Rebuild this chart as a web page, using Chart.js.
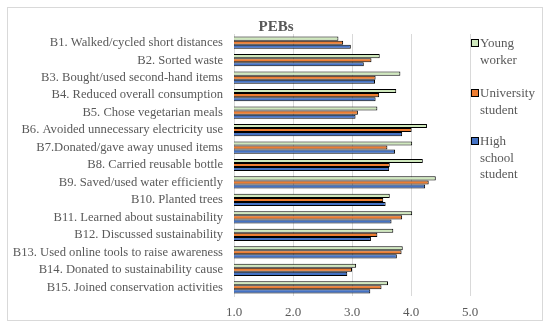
<!DOCTYPE html>
<html>
<head>
<meta charset="utf-8">
<script src="https://cdn.jsdelivr.net/npm/chart.js@4.4.0/dist/chart.umd.min.js"></script>
<style>
  html, body { margin: 0; padding: 0; background: #fff; }
  #wrap { width: 550px; height: 328px; position: relative; }
</style>
</head>
<body>
<div id="wrap"><canvas id="pebChart" width="550" height="328"></canvas></div>
<script>
// categorias (comportamientos)
const behaviours = [
  'B1. Walked/cycled short distances',
  'B2. Sorted waste',
  'B3. Bought/used second-hand items',
  'B4. Reduced overall consumption',
  'B5. Chose vegetarian meals',
  'B6. Avoided unnecessary electricity use',
  'B7.Donated/gave away unused items',
  'B8. Carried reusable bottle',
  'B9. Saved/used water efficiently',
  'B10. Planted trees',
  'B11. Learned about sustainability',
  'B12. Discussed sustainability',
  'B13. Used online tools to raise awareness',
  'B14. Donated to sustainability cause',
  'B15. Joined conservation activities'
];

// valores por grupo
const youngWorker = [2.77, 3.47, 3.82, 3.75, 3.43, 4.27, 4.02, 4.20, 4.42, 3.64, 4.02, 3.70, 3.86, 3.07, 3.61];
const universityStudent = [2.85, 3.33, 3.40, 3.46, 3.10, 4.01, 3.60, 3.64, 4.30, 3.53, 3.85, 3.43, 3.84, 3.00, 3.50];
const highSchoolStudent = [2.98, 3.20, 3.39, 3.40, 3.06, 3.85, 3.73, 3.63, 4.24, 3.57, 3.67, 3.32, 3.76, 2.92, 3.31];

const xTicks = [1, 2, 3, 4, 5];

const seriesNames = [['Young', 'worker'], ['University', 'student'], ['High', 'school', 'student']];

const fontFamily = "'Liberation Serif', 'DejaVu Serif', serif";
const textColor = '#595959';
const gridColor = '#d9d9d9';

// marco, titulo y leyenda
const decorations = {
  id: 'decorations',
  afterDraw(chart) {
    const c = chart.ctx;
    c.save();
    c.strokeStyle = gridColor;
    c.lineWidth = 1;
    c.strokeRect(7.5, 7.5, 535, 313);

    c.fillStyle = textColor;
    c.font = "bold 15px " + fontFamily;
    c.textAlign = 'center';
    c.textBaseline = 'middle';
    c.fillText('PEBs', 276, 27);

    c.font = "13px " + fontFamily;
    c.textAlign = 'left';
    const tops = [43, 93, 141];
    chart.data.datasets.forEach((ds, i) => {
      const y = tops[i];
      c.fillStyle = ds.backgroundColor;
      c.fillRect(472, y - 3, 6, 6);
      c.strokeStyle = '#000';
      c.strokeRect(471.5, y - 3.5, 7, 7);
      c.fillStyle = textColor;
      seriesNames[i].forEach((line, j) => {
        c.fillText(line, 480, y + 1 + j * 16.5);
      });
    });
    c.restore();
  }
};

const ctx = document.getElementById('pebChart').getContext('2d');
const pebChart = new Chart(ctx, {
  type: 'bar',
  data: {
    labels: behaviours,
    datasets: [
      { label: 'Young worker', data: youngWorker, backgroundColor: '#cfe8bd' },
      { label: 'University student', data: universityStudent, backgroundColor: '#ed7d31' },
      { label: 'High school student', data: highSchoolStudent, backgroundColor: '#4472c4' }
    ].map(d => Object.assign(d, {
      borderColor: '#000',
      borderWidth: 1,
      borderSkipped: false,
      categoryPercentage: 0.7,
      barPercentage: 1.0
    }))
  },
  options: {
    indexAxis: 'y',
    responsive: false,
    animation: false,
    layout: { padding: { left: 0, top: 34, right: 80, bottom: 0 } },
    plugins: {
      legend: { display: false },
      title: { display: false },
      tooltip: { enabled: false }
    },
    scales: {
      x: {
        min: 1,
        max: 5,
        afterBuildTicks: s => { s.ticks = xTicks.map(v => ({ value: v })); },
        afterFit: s => { s.height = 32; },
        ticks: {
          callback: v => Number(v).toFixed(1),
          color: textColor,
          font: { family: fontFamily, size: 13 },
          padding: 9
        },
        grid: { color: gridColor, drawTicks: false },
        border: { display: false }
      },
      y: {
        afterFit: s => { s.width = 234; },
        ticks: {
          color: textColor,
          font: { family: fontFamily, size: 12.6 },
          padding: 11,
          autoSkip: false
        },
        grid: { display: false, drawTicks: false },
        border: { color: gridColor }
      }
    }
  },
  plugins: [decorations]
});
</script>
</body>
</html>
